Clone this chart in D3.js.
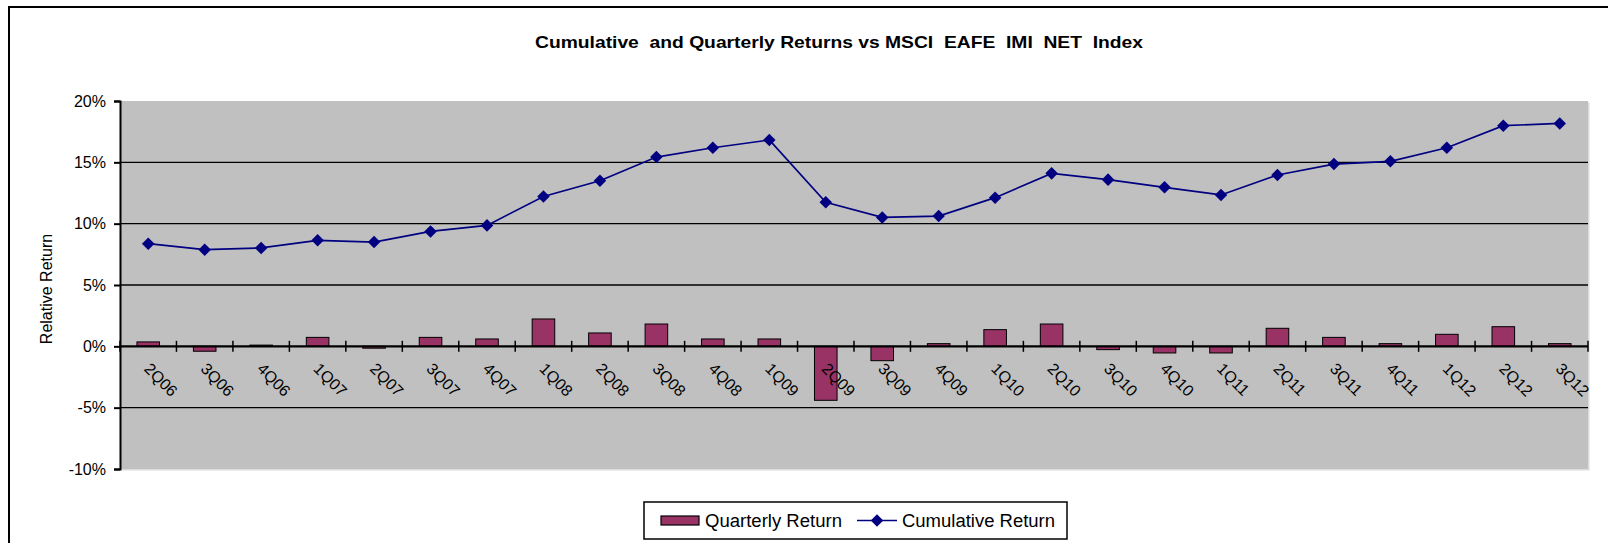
<!DOCTYPE html>
<html>
<head>
<meta charset="utf-8">
<script src="https://cdn.jsdelivr.net/npm/d3@7"></script>
<style>
html,body{margin:0;padding:0;background:#fff;}
svg{display:block;font-family:"Liberation Sans",Arial,sans-serif;}
</style>
</head>
<body>
<svg id="chart" width="1608" height="543"></svg>
<script>
const categories = ["2Q06","3Q06","4Q06","1Q07","2Q07","3Q07","4Q07","1Q08","2Q08","3Q08","4Q08","1Q09","2Q09","3Q09","4Q09","1Q10","2Q10","3Q10","4Q10","1Q11","2Q11","3Q11","4Q11","1Q12","2Q12","3Q12"];
const quarterlyReturn = [0.36,-0.40,0.10,0.73,-0.15,0.73,0.60,2.23,1.09,1.82,0.60,0.60,-4.40,-1.17,0.22,1.36,1.82,-0.27,-0.54,-0.54,1.47,0.73,0.22,0.98,1.60,0.22];
const cumulativeReturn = [8.37,7.88,8.02,8.64,8.50,9.37,9.86,12.22,13.50,15.43,16.19,16.82,11.74,10.51,10.62,12.12,14.10,13.59,12.96,12.34,13.97,14.86,15.08,16.19,17.99,18.17];
const yTicks = [-10,-5,0,5,10,15,20];
const gridValues = [-5,5,10,15];
const titleText = "Cumulative  and Quarterly Returns vs MSCI  EAFE  IMI  NET  Index";
const yTitle = "Relative Return";
const seriesNames = ["Quarterly Return","Cumulative Return"];

const svg = d3.select("#chart");
const pLeft = 120, pRight = 1588, pTop = 101, pBottom = 469;

// outer chart border
svg.append("rect").attr("x",9).attr("y",7).attr("width",1700).attr("height",700)
  .attr("fill","#fff").attr("stroke","#000").attr("stroke-width",2);

// title
svg.append("text").attr("x",839).attr("y",48).attr("text-anchor","middle")
  .attr("font-size",17).attr("font-weight","bold").attr("textLength",608)
  .attr("lengthAdjust","spacingAndGlyphs").attr("xml:space","preserve")
  .text(titleText);

const x = d3.scaleBand().domain(categories).range([pLeft,pRight]).paddingInner(0.6).paddingOuter(0.3);
const step = x.step();
const y = d3.scaleLinear().domain([-10,20]).range([pBottom,pTop]);

// plot area with light shadow
svg.append("rect").attr("x",pLeft+1.5).attr("y",pTop+1.5).attr("width",pRight-pLeft).attr("height",pBottom-pTop)
  .attr("fill","#dcdcdc");
svg.append("rect").attr("x",pLeft).attr("y",pTop).attr("width",pRight-pLeft).attr("height",pBottom-pTop)
  .attr("fill","#c0c0c0");

// gridlines
svg.append("g").selectAll("line").data(gridValues).join("line")
  .attr("x1",pLeft).attr("x2",pRight).attr("y1",d=>y(d)).attr("y2",d=>y(d))
  .attr("stroke","#000").attr("stroke-width",1.3);

// bars
svg.append("g").selectAll("rect").data(categories).join("rect")
  .attr("x",d=>x(d))
  .attr("width",x.bandwidth())
  .attr("y",(d,i)=>y(Math.max(0,quarterlyReturn[i])))
  .attr("height",(d,i)=>Math.abs(y(quarterlyReturn[i])-y(0)))
  .attr("fill","#993366").attr("stroke","#000").attr("stroke-width",1);

// y axis
const yAxis = svg.append("g").attr("transform",`translate(${pLeft},0)`)
  .call(d3.axisLeft(y).tickValues(yTicks).tickFormat(d=>d+"%").tickSize(6).tickPadding(8));
yAxis.select(".domain").attr("stroke","#000").attr("stroke-width",2);
yAxis.selectAll(".tick line").attr("stroke","#000").attr("stroke-width",2);
yAxis.selectAll(".tick text").attr("font-size",16).attr("fill","#000")
  .attr("font-family","Liberation Sans, Arial, sans-serif");

// category axis at zero
const boundaries = d3.range(categories.length+1).map(k=>pLeft+k*step);
svg.append("line").attr("x1",pLeft).attr("x2",pRight).attr("y1",y(0)).attr("y2",y(0))
  .attr("stroke","#000").attr("stroke-width",2.2);
svg.append("g").selectAll("line").data(boundaries).join("line")
  .attr("x1",d=>d).attr("x2",d=>d).attr("y1",y(0)-5.5).attr("y2",y(0)+5.5)
  .attr("stroke","#000").attr("stroke-width",1.5);
svg.append("g").selectAll("text").data(categories).join("text")
  .attr("transform",d=>`translate(${x(d)+x.bandwidth()/2-5},${y(0)+23.5}) rotate(45)`)
  .attr("font-size",16).attr("fill","#000").text(d=>d);

// cumulative line
const cx = d=>x(d)+x.bandwidth()/2;
const line = d3.line().x((d,i)=>cx(categories[i])).y(d=>y(d));
svg.append("path").datum(cumulativeReturn).attr("d",line)
  .attr("fill","none").attr("stroke","#000080").attr("stroke-width",1.7);
const diamond = d3.symbol().type(d3.symbolDiamond2).size(100);
svg.append("g").selectAll("path").data(cumulativeReturn).join("path")
  .attr("transform",(d,i)=>`translate(${cx(categories[i])},${y(d)})`)
  .attr("d",diamond).attr("fill","#000080");

// y axis title
svg.append("text").attr("transform","translate(52,289) rotate(-90)")
  .attr("text-anchor","middle").attr("font-size",16).attr("fill","#000").text(yTitle);

// legend
const lg = svg.append("g");
lg.append("rect").attr("x",644).attr("y",502).attr("width",423).attr("height",37)
  .attr("fill","#fff").attr("stroke","#000").attr("stroke-width",1.5);
lg.append("rect").attr("x",661).attr("y",516).attr("width",38).attr("height",9)
  .attr("fill","#993366").attr("stroke","#000").attr("stroke-width",1.2);
lg.append("text").attr("x",705).attr("y",527).attr("font-size",18)
  .attr("textLength",137).attr("lengthAdjust","spacingAndGlyphs").text(seriesNames[0]);
lg.append("line").attr("x1",857).attr("x2",897).attr("y1",520.5).attr("y2",520.5)
  .attr("stroke","#000080").attr("stroke-width",1.5);
lg.append("path").attr("transform","translate(877,520.5)").attr("d",diamond).attr("fill","#000080");
lg.append("text").attr("x",902).attr("y",527).attr("font-size",18)
  .attr("textLength",153).attr("lengthAdjust","spacingAndGlyphs").text(seriesNames[1]);
</script>
</body>
</html>
